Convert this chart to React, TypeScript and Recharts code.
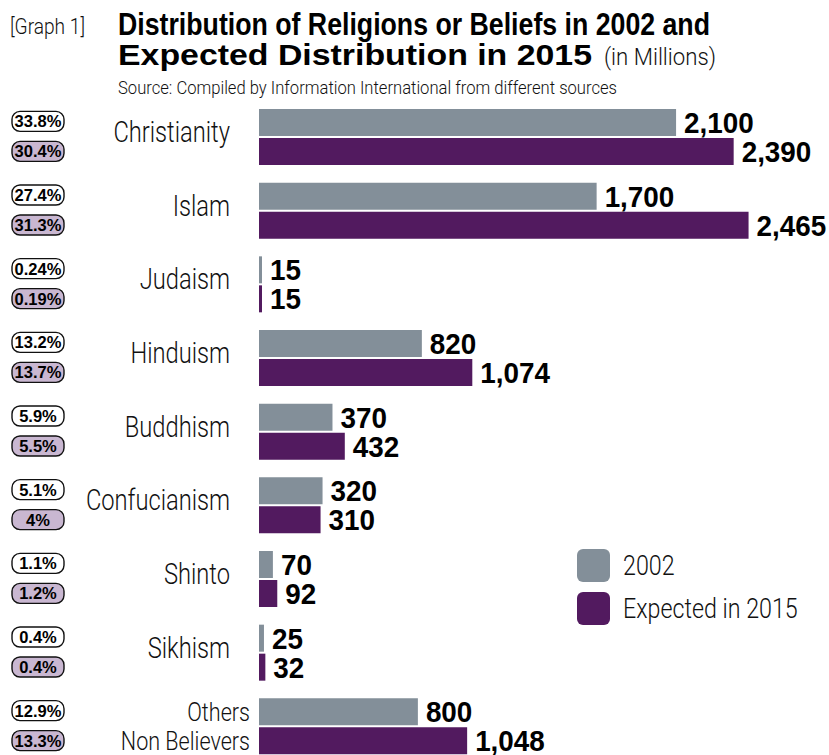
import React from 'react';
import { BarChart, Bar, XAxis, YAxis, LabelList, Legend } from 'recharts';

// values in millions
const categories = ['Christianity', 'Islam', 'Judaism', 'Hinduism', 'Buddhism', 'Confucianism', 'Shinto', 'Sikhism', 'Others|Non Believers'];
const values2002 = [2100, 1700, 15, 820, 370, 320, 70, 25, 800];
const values2015 = [2390, 2465, 15, 1074, 432, 310, 92, 32, 1048];
const share2002 = ['33.8%', '27.4%', '0.24%', '13.2%', '5.9%', '5.1%', '1.1%', '0.4%', '12.9%'];
const share2015 = ['30.4%', '31.3%', '0.19%', '13.7%', '5.5%', '4%', '1.2%', '0.4%', '13.3%'];

const GRAY = '#838f99';
const PURPLE = '#521a5f';
const BADGE_PURPLE = '#c9b7d1';
const LIGHT = "Roboto, 'Liberation Sans', sans-serif";
const HEAVY = "'Liberation Sans', Arial, sans-serif";

const data = categories.map((name, i) => ({
    name,
    y2002: values2002[i],
    y2015: values2015[i],
}));

const fmt = (v: any) => Number(v).toLocaleString('en-US');

const Badge = ({ cx, cy, text, fill }: { cx: number; cy: number; text: string; fill: string }) => (
    <g>
        <rect x={cx - 26} y={cy - 10} width={52} height={20} rx={8} fill={fill} stroke="#111" strokeWidth={1.4} />
        <text x={cx} y={cy + 6} textAnchor="middle" fontFamily={HEAVY} fontWeight={700} fontSize={16.5} fill="#000">
            {text}
        </text>
    </g>
);

const CategoryTick = (props: any) => {
    const { x, y, payload } = props;
    const i = categories.indexOf(payload.value);
    const parts = String(payload.value).split('|');
    return (
        <g>
            <Badge cx={x - 213} cy={y - 15.5} text={share2002[i]} fill="#fff" />
            <Badge cx={x - 213} cy={y + 14.5} text={share2015[i]} fill={BADGE_PURPLE} />
            {parts.length === 1 ? (
                <text
                    transform={`translate(${x - 21},${y + 5}) scale(0.79,1)`}
                    textAnchor="end"
                    fontFamily={LIGHT}
                    fontWeight={300}
                    fontSize={30}
                    fill="#111"
                >
                    {parts[0]}
                </text>
            ) : (
                parts.map((p, k) => (
                    <text
                        key={p}
                        transform={`translate(${x - 1},${y + (k === 0 ? -14.5 : 14.5) + 9}) scale(0.83,1)`}
                        textAnchor="end"
                        fontFamily={LIGHT}
                        fontWeight={300}
                        fontSize={26}
                        fill="#111"
                    >
                        {p}
                    </text>
                ))
            )}
        </g>
    );
};

// bold condensed value at the end of each bar
const ValueLabel = (props: any) => {
    const box = props.viewBox || props;
    const { x, y, width, height } = box;
    const tx = x + width + 8;
    const ty = y + height / 2 + 10.5;
    return (
        <text
            transform={`translate(${tx},${ty}) scale(0.96,1)`}
            fontFamily={HEAVY}
            fontWeight={700}
            fontSize={29}
            fill="#000"
        >
            {fmt(props.value)}
        </text>
    );
};

const LegendBox = ({ payload }: any) => (
    <div>
        {(payload || []).map((entry: any) => (
            <div key={entry.value} style={{ display: 'flex', alignItems: 'center', height: 33, marginBottom: 10 }}>
                <div style={{ width: 33, height: 33, borderRadius: 6, background: entry.color }} />
                <span
                    style={{
                        marginLeft: 13,
                        fontFamily: LIGHT,
                        fontWeight: 300,
                        fontSize: 28,
                        color: '#111',
                        whiteSpace: 'nowrap',
                        display: 'inline-block',
                        transform: 'scaleX(0.83)',
                        transformOrigin: 'left center',
                    }}
                >
                    {entry.value}
                </span>
            </div>
        ))}
    </div>
);

const App: React.FC = () => {
    return (
        <div style={{ position: 'fixed', left: 0, top: 0, width: 829, height: 755, overflow: 'hidden', background: '#fff' }}>
            <svg width={829} height={100} style={{ position: 'absolute', left: 0, top: 0 }}>
                <text x={10} y={34} fontFamily={LIGHT} fontWeight={300} fontSize={22} fill="#111" textLength={75} lengthAdjust="spacingAndGlyphs">
                    [Graph 1]
                </text>
                <text x={118} y={35} fontFamily={HEAVY} fontWeight={700} fontSize={31} fill="#000" textLength={592} lengthAdjust="spacingAndGlyphs">
                    Distribution of Religions or Beliefs in 2002 and
                </text>
                <text x={118} y={65} fontFamily={HEAVY} fontWeight={700} fontSize={29} fill="#000" textLength={474} lengthAdjust="spacingAndGlyphs">
                    Expected Distribution in 2015
                </text>
                <text x={604} y={65} fontFamily={LIGHT} fontWeight={300} fontSize={24} fill="#111" textLength={112} lengthAdjust="spacingAndGlyphs">
                    (in Millions)
                </text>
                <text x={118} y={94} fontFamily={LIGHT} fontWeight={300} fontSize={18} fill="#111" textLength={499} lengthAdjust="spacingAndGlyphs">
                    Source: Compiled by Information International from different sources
                </text>
            </svg>
            <div style={{ position: 'absolute', left: 0, top: 100 }}>
                <BarChart
                    width={829}
                    height={663}
                    data={data}
                    layout="vertical"
                    margin={{ top: 0, right: 0, bottom: 0, left: 0 }}
                    barSize={27}
                    barGap={2}
                >
                    <XAxis type="number" domain={[0, 2870]} hide />
                    <YAxis
                        type="category"
                        dataKey="name"
                        width={259}
                        axisLine={false}
                        tickLine={false}
                        interval={0}
                        tick={<CategoryTick />}
                    />
                    <Legend
                        layout="vertical"
                        align="center"
                        verticalAlign="middle"
                        content={<LegendBox />}
                        wrapperStyle={{ left: 577, top: 449, width: 'auto', height: 'auto' }}
                    />
                    <Bar dataKey="y2002" name="2002" fill={GRAY} isAnimationActive={false}>
                        <LabelList dataKey="y2002" content={<ValueLabel />} />
                    </Bar>
                    <Bar dataKey="y2015" name="Expected in 2015" fill={PURPLE} isAnimationActive={false}>
                        <LabelList dataKey="y2015" content={<ValueLabel />} />
                    </Bar>
                </BarChart>
            </div>
        </div>
    );
};

export default App;
